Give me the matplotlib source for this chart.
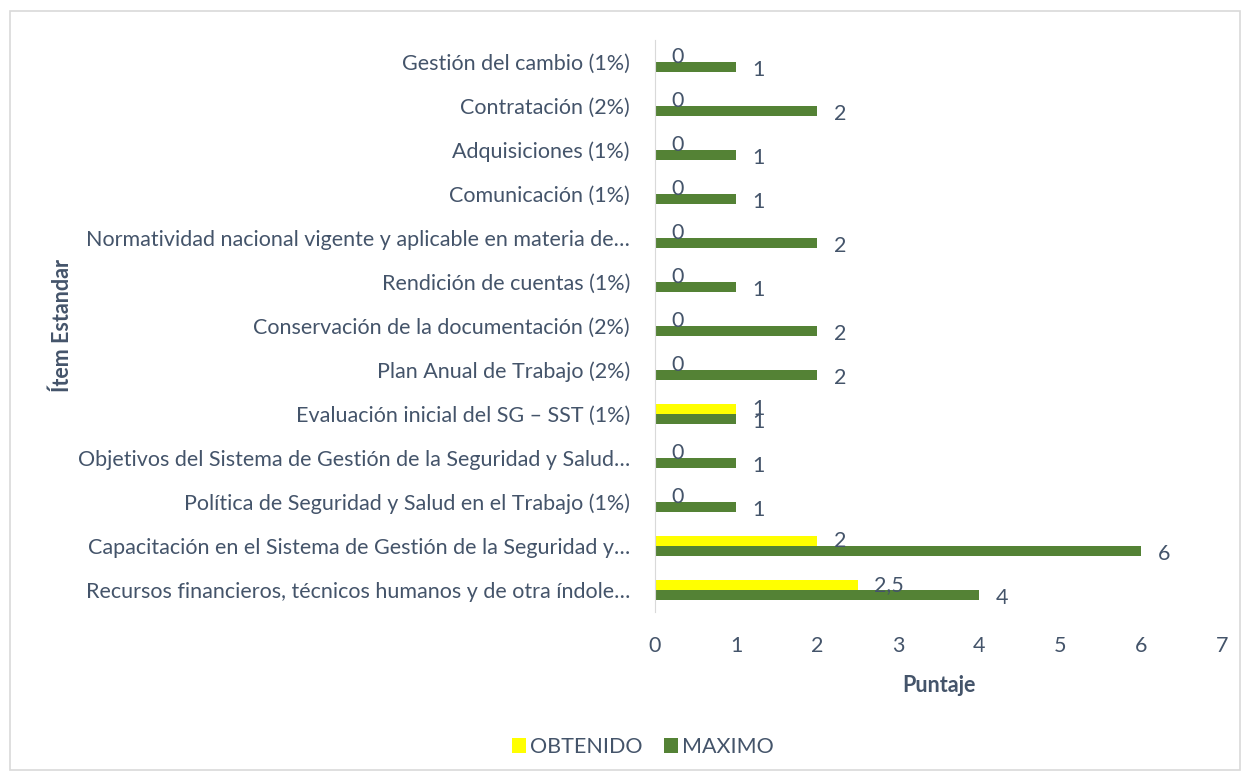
import matplotlib.pyplot as plt
from matplotlib.patches import Rectangle

plt.rcParams['font.family'] = ['Lato', 'DejaVu Sans']

# categories from bottom to top
categorias = [
    'Recursos financieros, técnicos humanos y de otra índole…',
    'Capacitación en el Sistema de Gestión de la Seguridad y…',
    'Política de Seguridad y Salud en el Trabajo (1%)',
    'Objetivos del Sistema de Gestión de la Seguridad y Salud…',
    'Evaluación inicial del SG – SST (1%)',
    'Plan Anual de Trabajo (2%)',
    'Conservación de la documentación (2%)',
    'Rendición de cuentas (1%)',
    'Normatividad nacional vigente y aplicable en materia de…',
    'Comunicación (1%)',
    'Adquisiciones (1%)',
    'Contratación (2%)',
    'Gestión del cambio (1%)',
]
obtenido = [2.5, 2, 0, 0, 1, 0, 0, 0, 0, 0, 0, 0, 0]
maximo = [4, 6, 1, 1, 1, 2, 2, 1, 2, 1, 1, 2, 1]

texto = '#44546A'
amarillo = '#FFFF00'
verde = '#548235'
fs = 15.5

fig = plt.figure(figsize=(12.48, 7.79), dpi=100)
fig.patches.append(Rectangle((10 / 1248, 1 - 770 / 779), 1230 / 1248, 759 / 779,
                             transform=fig.transFigure, fill=False,
                             edgecolor='#D9D9D9', linewidth=1.2))

ax = fig.add_axes([655 / 1248, 1 - 612 / 779, 567 / 1248, 572 / 779])

y = list(range(len(categorias)))
h = 0.23
ax.barh([v + h / 2 for v in y], obtenido, height=h, color=amarillo, label='OBTENIDO')
ax.barh([v - h / 2 for v in y], maximo, height=h, color=verde, label='MAXIMO')

# data labels (the two "1" labels overlap in the original too)
for i in y:
    ax.annotate(f'{obtenido[i]:g}'.replace('.', ','), (obtenido[i], i + h / 2),
                xytext=(12, 0), textcoords='offset points', va='center', ha='left',
                fontsize=fs, color=texto)
    ax.annotate(f'{maximo[i]:g}', (maximo[i], i - h / 2),
                xytext=(12, -2), textcoords='offset points', va='center', ha='left',
                fontsize=fs, color=texto)

ax.set_xlim(0, 7)
ax.set_ylim(-0.5, len(categorias) - 0.5)
ax.set_yticks(y)
ax.set_yticklabels(categorias)
ax.set_xticks(range(8))
ax.tick_params(axis='both', length=0, labelsize=fs, colors=texto)
ax.tick_params(axis='y', pad=18)
ax.tick_params(axis='x', pad=17)
for s in ['top', 'right', 'bottom']:
    ax.spines[s].set_visible(False)
ax.spines['left'].set_color('#D9D9D9')

ax.set_xlabel('Puntaje', fontsize=fs, fontweight='bold', color=texto, labelpad=14)
fig.text(62 / 1248, 1 - 325 / 779, 'Ítem Estandar', rotation=90, fontsize=fs,
         fontweight='bold', color=texto, ha='center', va='center')

fig.legend(loc='center', bbox_to_anchor=(643 / 1248, 1 - 747 / 779), ncol=2,
           frameon=False, fontsize=fs, labelcolor=texto, handlelength=0.65,
           handleheight=0.65, handletextpad=0.2, columnspacing=1.0)

fig.savefig('out.png', dpi=100)
